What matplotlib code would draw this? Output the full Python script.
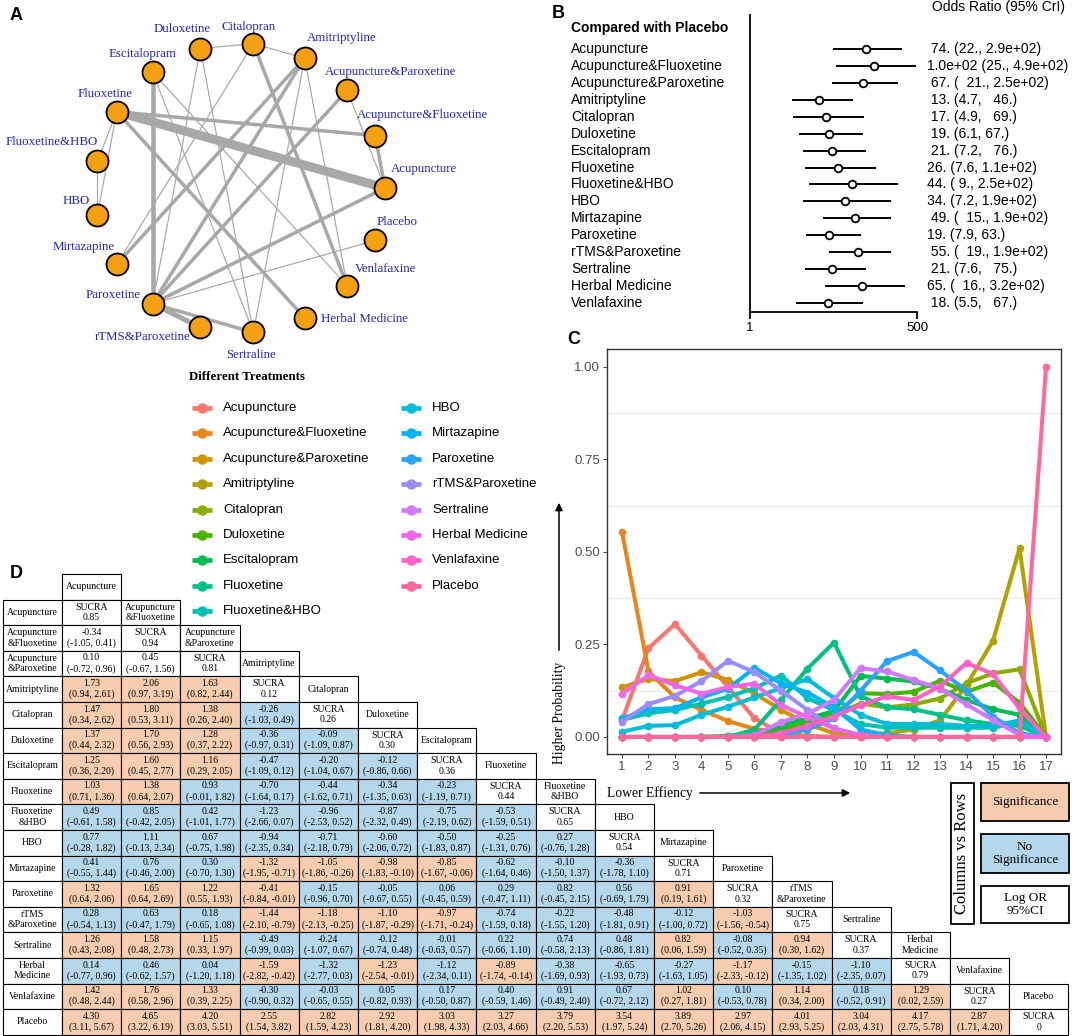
import numpy as np
import matplotlib
matplotlib.use("Agg")
import matplotlib.pyplot as plt
from matplotlib.patches import Rectangle
import matplotlib.transforms as mtransforms

W, H = 1072, 1036
SANS = "Liberation Sans"
SERIF = "Liberation Serif"

# ---------------- data ----------------
treatments = ["Acupuncture", "Acupuncture&Fluoxetine", "Acupuncture&Paroxetine",
              "Amitriptyline", "Citalopran", "Duloxetine", "Escitalopram",
              "Fluoxetine", "Fluoxetine&HBO", "HBO", "Mirtazapine", "Paroxetine",
              "rTMS&Paroxetine", "Sertraline", "Herbal Medicine", "Venlafaxine",
              "Placebo"]

# network edges (treatment index a, index b, thickness px)
net_edges = [(7, 0, 9), (6, 11, 4.5), (7, 1, 3.5), (7, 8, 1.2), (7, 9, 1.2),
             (8, 9, 1.2), (7, 14, 3.5), (6, 13, 1.2), (6, 15, 1.2), (5, 4, 1.2),
             (5, 11, 1.2), (5, 13, 1.2), (4, 3, 1.2), (4, 10, 1.2), (4, 15, 3.5),
             (3, 11, 3.5), (3, 10, 3.5), (3, 13, 1.2), (3, 15, 1.2), (2, 11, 3.5),
             (2, 0, 1.2), (1, 0, 3.5), (0, 11, 3.5), (16, 11, 1.2), (11, 12, 5),
             (11, 13, 3.5)]

# forest plot, OR vs placebo
or_mid = [74, 100, 67, 13, 17, 19, 21, 26, 44, 34, 49, 19, 55, 21, 65, 18]
or_lo = [22, 25, 21, 4.7, 4.9, 6.1, 7.2, 7.6, 9, 7.2, 15, 7.9, 19, 7.6, 16, 5.5]
or_hi = [290, 490, 250, 46, 69, 67, 76, 110, 250, 190, 190, 63, 190, 75, 320, 67]
or_text = [" 74. (22., 2.9e+02)", "1.0e+02 (25., 4.9e+02)", " 67. (  21., 2.5e+02)",
           " 13. (4.7,   46.)", " 17. (4.9,   69.)", " 19. (6.1, 67.)",
           " 21. (7.2,   76.)", "26. (7.6, 1.1e+02)", "44. ( 9., 2.5e+02)",
           "34. (7.2, 1.9e+02)", " 49. (  15., 1.9e+02)", "19. (7.9, 63.)",
           " 55. (  19., 1.9e+02)", " 21. (7.6,   75.)", "65. (  16., 3.2e+02)",
           " 18. (5.5,   67.)"]

# rank probabilities, ranks 1..17
ranks = list(range(1, 18))
rank_prob = [
    [0.045, 0.24, 0.305, 0.22, 0.135, 0.05, 0.01, 0, 0, 0, 0, 0, 0, 0, 0, 0, 0],
    [0.555, 0.177, 0.107, 0.073, 0.043, 0.022, 0.01, 0.003, 0, 0, 0, 0, 0, 0, 0, 0, 0],
    [0.134, 0.157, 0.151, 0.175, 0.154, 0.118, 0.073, 0.035, 0.01, 0.003, 0, 0, 0, 0, 0, 0, 0],
    [0, 0, 0, 0, 0, 0, 0, 0, 0, 0.005, 0.01, 0.02, 0.045, 0.14, 0.26, 0.51, 0],
    [0, 0, 0, 0, 0.002, 0.005, 0.015, 0.035, 0.06, 0.09, 0.08, 0.088, 0.104, 0.145, 0.172, 0.183, 0],
    [0, 0, 0, 0, 0, 0, 0.02, 0.04, 0.06, 0.118, 0.116, 0.122, 0.152, 0.122, 0.147, 0.093, 0],
    [0, 0, 0, 0, 0.002, 0.01, 0.03, 0.05, 0.07, 0.165, 0.158, 0.15, 0.13, 0.1, 0.075, 0.06, 0],
    [0, 0, 0, 0, 0, 0.02, 0.1, 0.185, 0.255, 0.11, 0.08, 0.075, 0.06, 0.045, 0.035, 0.03, 0],
    [0.046, 0.064, 0.073, 0.09, 0.108, 0.132, 0.166, 0.105, 0.072, 0.035, 0.025, 0.025, 0.025, 0.025, 0.025, 0.04, 0],
    [0.014, 0.03, 0.032, 0.06, 0.082, 0.107, 0.132, 0.156, 0.105, 0.06, 0.035, 0.035, 0.035, 0.03, 0.03, 0.045, 0],
    [0.05, 0.075, 0.078, 0.107, 0.13, 0.187, 0.145, 0.12, 0.08, 0.02, 0.005, 0, 0, 0, 0, 0, 0],
    [0, 0, 0, 0, 0, 0, 0.005, 0.02, 0.05, 0.125, 0.205, 0.23, 0.18, 0.125, 0.055, 0.01, 0],
    [0.041, 0.089, 0.111, 0.151, 0.206, 0.175, 0.125, 0.073, 0.023, 0.005, 0, 0, 0, 0, 0, 0, 0],
    [0, 0, 0, 0, 0, 0.005, 0.04, 0.063, 0.1, 0.186, 0.177, 0.154, 0.131, 0.088, 0.046, 0.005, 0],
    [0.117, 0.167, 0.14, 0.117, 0.135, 0.144, 0.086, 0.054, 0.023, 0.005, 0, 0, 0, 0, 0, 0, 0],
    [0, 0, 0, 0, 0, 0, 0.01, 0.03, 0.055, 0.086, 0.11, 0.1, 0.137, 0.2, 0.17, 0.077, 0],
    [0, 0, 0, 0, 0, 0, 0, 0, 0, 0, 0, 0, 0, 0, 0, 0, 1.0],
]

# league table (log OR, rows vs columns), lower triangle
tbl_names = ["Acupuncture", "Acupuncture\n&Fluoxetine", "Acupuncture\n&Paroxetine",
             "Amitriptyline", "Citalopran", "Duloxetine", "Escitalopram", "Fluoxetine",
             "Fluoxetine\n&HBO", "HBO", "Mirtazapine", "Paroxetine", "rTMS\n&Paroxetine",
             "Sertraline", "Herbal\nMedicine", "Venlafaxine", "Placebo"]
sucra = ["0.85", "0.94", "0.81", "0.12", "0.26", "0.30", "0.36", "0.44", "0.65",
         "0.54", "0.71", "0.32", "0.75", "0.37", "0.79", "0.27", "0"]
est = [
    [],
    [-0.34],
    [0.10, 0.45],
    [1.73, 2.06, 1.63],
    [1.47, 1.80, 1.38, -0.26],
    [1.37, 1.70, 1.28, -0.36, -0.09],
    [1.25, 1.60, 1.16, -0.47, -0.20, -0.12],
    [1.03, 1.38, 0.93, -0.70, -0.44, -0.34, -0.23],
    [0.49, 0.85, 0.42, -1.23, -0.96, -0.87, -0.75, -0.53],
    [0.77, 1.11, 0.67, -0.94, -0.71, -0.60, -0.50, -0.25, 0.27],
    [0.41, 0.76, 0.30, -1.32, -1.05, -0.98, -0.85, -0.62, -0.10, -0.36],
    [1.32, 1.65, 1.22, -0.41, -0.15, -0.05, 0.06, 0.29, 0.82, 0.56, 0.91],
    [0.28, 0.63, 0.18, -1.44, -1.18, -1.10, -0.97, -0.74, -0.22, -0.48, -0.12, -1.03],
    [1.26, 1.58, 1.15, -0.49, -0.24, -0.12, -0.01, 0.22, 0.74, 0.48, 0.82, -0.08, 0.94],
    [0.14, 0.46, 0.04, -1.59, -1.32, -1.23, -1.12, -0.89, -0.38, -0.65, -0.27, -1.17, -0.15, -1.10],
    [1.42, 1.76, 1.33, -0.30, -0.03, 0.05, 0.17, 0.40, 0.91, 0.67, 1.02, 0.10, 1.14, 0.18, 1.29],
    [4.30, 4.65, 4.20, 2.55, 2.82, 2.92, 3.03, 3.27, 3.79, 3.54, 3.89, 2.97, 4.01, 3.04, 4.17, 2.87],
]
lo = [
    [],
    [-1.05],
    [-0.72, -0.67],
    [0.94, 0.97, 0.82],
    [0.34, 0.53, 0.26, -1.03],
    [0.44, 0.56, 0.37, -0.97, -1.09],
    [0.36, 0.45, 0.29, -1.09, -1.04, -0.86],
    [0.71, 0.64, -0.01, -1.64, -1.62, -1.35, -1.19],
    [-0.61, -0.42, -1.01, -2.66, -2.53, -2.32, -2.19, -1.59],
    [-0.28, -0.13, -0.75, -2.35, -2.18, -2.06, -1.83, -1.31, -0.76],
    [-0.55, -0.46, -0.70, -1.95, -1.86, -1.83, -1.67, -1.64, -1.50, -1.78],
    [0.64, 0.64, 0.55, -0.84, -0.96, -0.67, -0.45, -0.47, -0.45, -0.69, 0.19],
    [-0.54, -0.47, -0.65, -2.10, -2.13, -1.87, -1.71, -1.59, -1.55, -1.81, -1.00, -1.56],
    [0.43, 0.48, 0.33, -0.99, -1.07, -0.74, -0.63, -0.66, -0.58, -0.86, 0.06, -0.52, 0.30],
    [-0.77, -0.62, -1.20, -2.82, -2.77, -2.54, -2.34, -1.74, -1.69, -1.93, -1.63, -2.33, -1.35, -2.35],
    [0.48, 0.58, 0.39, -0.90, -0.65, -0.82, -0.50, -0.59, -0.49, -0.72, 0.27, -0.53, 0.34, -0.52, 0.02],
    [3.11, 3.22, 3.03, 1.54, 1.59, 1.81, 1.98, 2.03, 2.20, 1.97, 2.70, 2.06, 2.93, 2.03, 2.75, 1.71],
]
hi = [
    [],
    [0.41],
    [0.96, 1.56],
    [2.61, 3.19, 2.44],
    [2.62, 3.11, 2.40, 0.49],
    [2.32, 2.93, 2.22, 0.31, 0.87],
    [2.20, 2.77, 2.05, 0.12, 0.67, 0.66],
    [1.36, 2.07, 1.82, 0.17, 0.71, 0.63, 0.71],
    [1.58, 2.05, 1.77, 0.07, 0.52, 0.49, 0.62, 0.51],
    [1.82, 2.34, 1.98, 0.34, 0.79, 0.72, 0.87, 0.76, 1.28],
    [1.44, 2.00, 1.30, -0.71, -0.26, -0.10, -0.06, 0.46, 1.37, 1.10],
    [2.06, 2.69, 1.93, -0.01, 0.70, 0.55, 0.59, 1.11, 2.15, 1.79, 1.61],
    [1.13, 1.79, 1.08, -0.79, -0.25, -0.29, -0.24, 0.18, 1.20, 0.91, 0.72, -0.54],
    [2.08, 2.73, 1.97, 0.03, 0.67, 0.48, 0.57, 1.10, 2.13, 1.81, 1.59, 0.35, 1.62],
    [0.96, 1.57, 1.18, -0.42, 0.03, -0.01, 0.11, -0.14, 0.93, 0.73, 1.05, -0.12, 1.02, 0.07],
    [2.44, 2.96, 2.25, 0.32, 0.55, 0.93, 0.87, 1.46, 2.40, 2.12, 1.81, 0.78, 2.00, 0.91, 2.59],
    [5.67, 6.19, 5.51, 3.82, 4.23, 4.20, 4.33, 4.66, 5.53, 5.24, 5.26, 4.15, 5.25, 4.31, 5.78, 4.20],
]
white_cells = [(1, 0), (2, 0), (2, 1)]


# ggplot style hue palette
def hue_pal(n, c=100.0, l=65.0):
    hues = np.linspace(15, 375, n + 1)[:-1] % 360
    out = []
    Xn, Yn, Zn = 95.047, 100.0, 108.883
    un = 4 * Xn / (Xn + 15 * Yn + 3 * Zn)
    vn = 9 * Yn / (Xn + 15 * Yn + 3 * Zn)
    for h in hues:
        u = c * np.cos(np.radians(h))
        v = c * np.sin(np.radians(h))
        Y = Yn * ((l + 16) / 116) ** 3
        up = u / (13 * l) + un
        vp = v / (13 * l) + vn
        X = 9 * Y * up / (4 * vp)
        Z = -X / 3 - 5 * Y + 3 * Y / vp
        X, Y, Z = X / 100, Y / 100, Z / 100
        rgb = np.array([3.240479 * X - 1.537150 * Y - 0.498535 * Z,
                        -0.969256 * X + 1.875992 * Y + 0.041556 * Z,
                        0.055648 * X - 0.204043 * Y + 1.057311 * Z])
        rgb = np.where(rgb <= 0.0031308, 12.92 * rgb, 1.055 * np.abs(rgb) ** (1 / 2.4) - 0.055)
        out.append(tuple(np.clip(rgb, 0, 1)))
    return out


cols = hue_pal(17)


def box(x0, y0, x1, y1):
    return [x0 / W, 1 - y1 / H, (x1 - x0) / W, (y1 - y0) / H]


fig = plt.figure(figsize=(W / 100, H / 100), dpi=100)
ov = fig.add_axes([0, 0, 1, 1])
ov.set_xlim(0, W)
ov.set_ylim(H, 0)
ov.axis("off")

# panel letters
for lab, x, y in [("A", 10, 15), ("B", 552, 13), ("C", 567, 340), ("D", 10, 574)]:
    ov.text(x, y, lab, fontsize=13, fontweight="bold", family=SANS, ha="left", va="center")

# ---------------- A: network ----------------
axA = fig.add_axes(box(0, 0, 480, 395))
axA.set_xlim(0, 480)
axA.set_ylim(395, 0)
axA.axis("off")
ang = 2 * np.pi * np.arange(len(treatments)) / len(treatments)
nx = 240 + 145 * np.cos(ang)
ny = 188 - 145 * np.sin(ang)
for a, b, w in net_edges:
    axA.plot([nx[a], nx[b]], [ny[a], ny[b]], color="#A8A8A8", lw=w * 0.72,
             solid_capstyle="butt", zorder=1)
axA.scatter(nx, ny, s=(22 * 0.72) ** 2, c="#F5A010", edgecolors="black",
            linewidths=1.3, zorder=3)
label_off = [(39, -19), (47, -21), (43, -18), (37, -20), (-5, -17), (-18, -20),
             (-10, -18), (-12, -18), (-46, -19), (-21, -14), (-33, -17), (-39, -9),
             (-58, 10), (-2, 23), (60, 1), (38, -17), (22, -18)]
for k, name in enumerate(treatments):
    dx, dy = label_off[k]
    axA.text(nx[k] + dx, ny[k] + dy, name, ha="center", va="center", fontsize=9.3,
             family=SERIF, color="#2424B0", zorder=4)
ov.text(247, 377, "Different Treatments", ha="center", va="center", fontsize=9.3,
        family=SERIF, fontweight="bold")

# ---------------- B: forest plot ----------------
B_ROW0, B_STEP = 49, 16.93
axB = fig.add_axes(box(750, 15, 917, 312))
axB.set_xscale("log")
axB.set_xlim(1, 500)
axB.set_ylim((312 - B_ROW0) / B_STEP, (15 - B_ROW0) / B_STEP)
yrow = np.arange(len(or_mid))
axB.hlines(yrow, or_lo, or_hi, color="black", lw=1.4)
axB.plot(or_mid, yrow, "o", mfc="white", mec="black", ms=5.5, mew=1.3, ls="none")
for s in ["top", "right"]:
    axB.spines[s].set_visible(False)
axB.spines["left"].set_linewidth(1.3)
axB.spines["bottom"].set_linewidth(1.3)
axB.set_yticks([])
axB.set_xticks([1, 500])
axB.set_xticklabels(["1", "500"], fontsize=9.5, family=SANS)
axB.xaxis.set_minor_locator(matplotlib.ticker.NullLocator())
axB.tick_params(axis="x", length=5, width=1.3, pad=2)
axB.patch.set_alpha(0)
trB = mtransforms.blended_transform_factory(ov.transData, axB.transData)
ov.text(571, 28, "Compared with Placebo", ha="left", va="center", fontsize=10,
        family=SANS, fontweight="bold")
ov.text(999, 7, "Odds Ratio (95% CrI)", ha="center", va="center", fontsize=10, family=SANS)
for i in range(len(or_mid)):
    ov.text(571, i, treatments[i], transform=trB, ha="left", va="center",
            fontsize=10, family=SANS)
    ov.text(927, i, or_text[i], transform=trB, ha="left", va="center",
            fontsize=10, family=SANS)

# ---------------- C: rank probabilities ----------------
axC = fig.add_axes(box(607, 349, 1061, 754))
for k, name in enumerate(treatments):
    axC.plot(ranks, rank_prob[k], color=cols[k], lw=2.9, marker="o", ms=4.5,
             solid_capstyle="round")
axC.set_xlim(0.434, 17.566)
axC.set_ylim(-0.046, 1.0486)
axC.set_xticks(ranks)
axC.set_yticks([0, 0.25, 0.5, 0.75, 1.0])
axC.set_yticklabels(["0.00", "0.25", "0.50", "0.75", "1.00"])
for g in [0.125, 0.375, 0.625, 0.875]:
    axC.axhline(g, color="#EBEBEB", lw=0.9, zorder=0)
axC.tick_params(labelsize=9.5, colors="#4D4D4D", labelcolor="#4D4D4D", length=3, pad=2)
for lab in axC.get_xticklabels() + axC.get_yticklabels():
    lab.set_family(SANS)
for s in axC.spines.values():
    s.set_color("#333333")
    s.set_linewidth(1.0)

ov.text(559, 713, "Higher Probability", rotation=90, ha="center", va="center",
        fontsize=9.8, family=SERIF)
ov.annotate("", xy=(559, 500), xytext=(559, 653),
            arrowprops=dict(arrowstyle="-|>", lw=1.1, color="black", mutation_scale=11))
ov.text(607, 793, "Lower Effiency", ha="left", va="center", fontsize=9.8, family=SERIF)
ov.annotate("", xy=(853, 793), xytext=(697, 793),
            arrowprops=dict(arrowstyle="-|>", lw=1.1, color="black", mutation_scale=11))

# legend
LEG_Y0, LEG_STEP = 408, 25.4
for k, name in enumerate(treatments):
    if k < 9:
        xm, row = 202, k
    else:
        xm, row = 411, k - 9
    y = LEG_Y0 + LEG_STEP * row
    ov.plot([xm - 10, xm + 10], [y, y], color=cols[k], lw=3.4, solid_capstyle="butt")
    ov.plot(xm, y, "o", color=cols[k], ms=6.5)
    ov.text(xm + 21, y, name, ha="left", va="center", fontsize=9.5, family=SANS)

# ---------------- D: league table ----------------
TX0, TY0, CW, RH = 2.7, 599.5, 59.2, 25.6
ORANGE, BLUE = "#F8CCAE", "#B5D7EC"


def cell(col, row, text, fc):
    x = TX0 + col * CW
    y = TY0 + row * RH
    ov.add_patch(Rectangle((x, y), CW, RH, facecolor=fc, edgecolor="black", lw=0.8))
    ov.text(x + CW / 2, y + RH / 2, text, ha="center", va="center", fontsize=7.0,
            family=SERIF, linespacing=1.2)


n = len(tbl_names)
cell(1, -1, tbl_names[0], "white")
for r in range(n):
    cell(0, r, tbl_names[r], "white")
    for j in range(r):
        e, l_, h_ = est[r][j], lo[r][j], hi[r][j]
        if (r, j) in white_cells:
            fc = "white"
        elif l_ > 0 or h_ < 0:
            fc = ORANGE
        else:
            fc = BLUE
        cell(j + 1, r, "%.2f\n(%.2f, %.2f)" % (e, l_, h_), fc)
    cell(r + 1, r, "SUCRA\n" + sucra[r], "white")
    if r + 1 < n:
        cell(r + 2, r, tbl_names[r + 1], "white")

# table key
ov.add_patch(Rectangle((951, 783), 23, 141, facecolor="white", edgecolor="black", lw=1.3))
ov.text(962.5, 853.5, "Columns vs Rows", rotation=90, ha="center", va="center",
        fontsize=12, family=SERIF)
for (y0, y1, txt, fc) in [(783, 821, "Significance", ORANGE),
                          (834, 873, "No\nSignificance", BLUE),
                          (886, 923, "Log OR\n95%CI", "white")]:
    ov.add_patch(Rectangle((981, y0), 88, y1 - y0, facecolor=fc, edgecolor="black", lw=1.3))
    ov.text(1025, (y0 + y1) / 2, txt, ha="center", va="center", fontsize=9.5,
            family=SERIF, linespacing=1.15)

fig.savefig("out.png", dpi=100)
